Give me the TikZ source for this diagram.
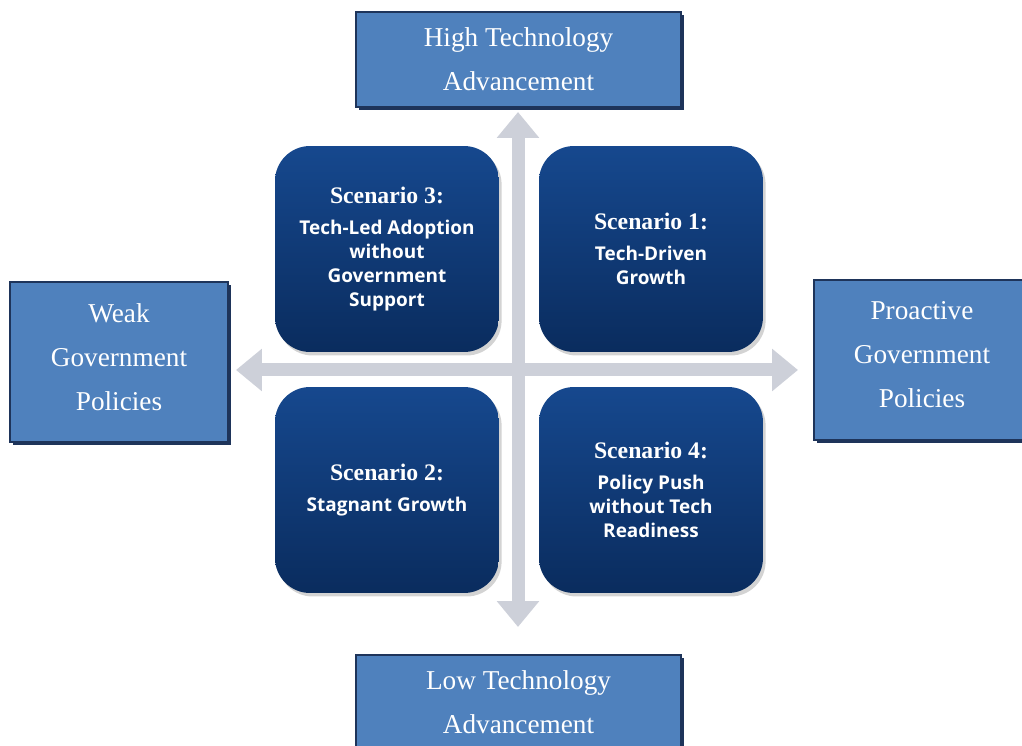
\documentclass[tikz,border=0pt]{standalone}
\usepackage{fontspec}
\setmainfont{Liberation Serif}
\newfontfamily\scensans{Open Sans}
\usetikzlibrary{arrows.meta,shadows}

\definecolor{axisblue}{RGB}{79,129,189}
\definecolor{axisedge}{RGB}{30,52,90}
\definecolor{scentop}{RGB}{22,72,142}
\definecolor{scenbottom}{RGB}{10,44,94}
\definecolor{axisgray}{RGB}{205,208,217}

\newcommand{\scentitle}[1]{{\rmfamily\bfseries\fontsize{13.5}{16}\selectfont #1}}

\begin{document}
\begin{tikzpicture}[x=0.02cm, y=-0.02cm,
    axisbox/.style={rectangle, draw=axisedge, line width=0.8pt, fill=axisblue, text=white, inner sep=0pt, align=center,
        font=\fontsize{15.5}{25}\selectfont,
        drop shadow={shadow xshift=1.6pt, shadow yshift=-1.6pt, fill=axisedge, opacity=1}},
    scenbox/.style={rectangle, rounded corners=0.7cm, top color=scentop, bottom color=scenbottom,
        minimum width=4.48cm, minimum height=4.12cm, inner sep=0pt, text=white, align=center,
        font=\scensans\bfseries\fontsize{10.8}{13.6}\selectfont,
        drop shadow={shadow xshift=1.5pt, shadow yshift=-2pt, opacity=0.35}},
    axisarrow/.style={{Triangle[width=0.82cm,length=0.52cm]}-{Triangle[width=0.82cm,length=0.52cm]},
        line width=0.26cm, draw=axisgray}
]
\useasboundingbox (0,0) rectangle (1022,746);

% axes
\coordinate (vtop) at (518,112);
\coordinate (vbot) at (518,627);
\coordinate (hleft) at (236,370);
\coordinate (hright) at (798,370);
\draw[axisarrow] (vbot) -- (vtop);
\draw[axisarrow] (hleft) -- (hright);

% axis ends
\node[axisbox, minimum width=6.5cm, minimum height=1.9cm] (hightech) at (518.5,59.5) {High Technology\\Advancement};
\node[axisbox, minimum width=6.5cm, minimum height=1.9cm] (lowtech) at (518.5,702.5) {Low Technology\\Advancement};
\node[axisbox, minimum width=4.36cm, minimum height=3.2cm] (weakgov) at (119,362) {Weak\\Government\\Policies\\[-19pt]};
\node[axisbox, minimum width=4.32cm, minimum height=3.2cm] (proactgov) at (922,360) {Proactive\\Government\\Policies\\[-19pt]};

% scenarios
\node[scenbox] (scen3) at (387,249) {\scentitle{Scenario 3:}\\[4pt]Tech-Led Adoption\\without\\Government\\Support};
\node[scenbox] (scen1) at (651,249) {\scentitle{Scenario 1:}\\[4pt]Tech-Driven\\Growth};
\node[scenbox] (scen2) at (387,490) {\scentitle{Scenario 2:}\\[4pt]Stagnant Growth};
\node[scenbox] (scen4) at (651,490) {\scentitle{Scenario 4:}\\[4pt]Policy Push\\without Tech\\Readiness};
\end{tikzpicture}
\end{document}
